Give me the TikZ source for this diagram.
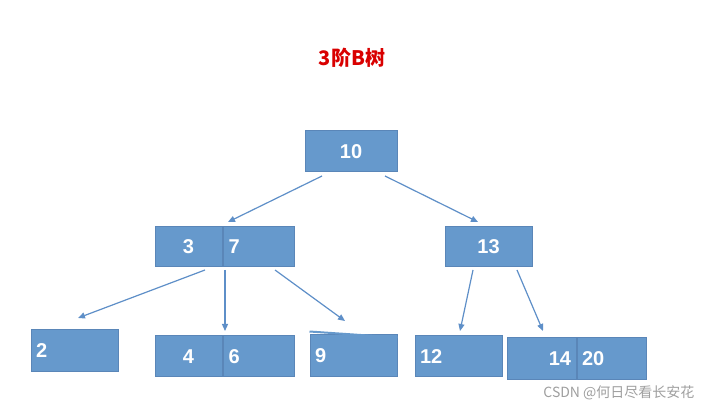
\documentclass[tikz,border=0pt]{standalone}
\usepackage{fontspec}
\setmainfont{Liberation Sans}
\newfontfamily\cjk{Noto Sans CJK SC}
\usetikzlibrary{arrows.meta}
\definecolor{bfill}{HTML}{6699CC}
\definecolor{bline}{HTML}{5A86B8}
\definecolor{arr}{HTML}{5E8FC8}
\tikzset{
 bx/.style={draw=bline,fill=bfill,line width=1pt,inner sep=0pt,text=white,font=\bfseries\fontsize{20}{20}\selectfont},
 conn/.style={draw=arr,line width=1.2pt,-{Triangle[length=7pt,width=6pt]}}
}
\begin{document}
\begin{tikzpicture}[x=1pt,y=-1pt]
\useasboundingbox[fill=white] (0,0) rectangle (710,411);
\node[font=\cjk\bfseries\fontsize{20}{20}\selectfont,text=red!85!black] (title) at (352,58) {3阶B树};
\node[bx,minimum width=92pt,minimum height=41pt] (n10) at (351,151.5) {10};
\node[bx,minimum width=67pt,minimum height=40pt] (n3) at (188.5,247) {3};
\node[bx,minimum width=71pt,minimum height=40pt,anchor=west,text width=60pt,align=left,inner xsep=5pt] (n7) at (n3.east) {7};
\node[bx,minimum width=87pt,minimum height=40pt] (n13) at (488.5,247) {13};
\node[bx,minimum width=87pt,minimum height=42pt,text width=77pt,align=left,inner xsep=5pt] (n2) at (74.5,351) {2};
\node[bx,minimum width=67pt,minimum height=41pt] (n4) at (188.5,356.5) {4};
\node[bx,minimum width=71pt,minimum height=41pt,anchor=west,text width=60pt,align=left,inner xsep=5pt] (n6) at (n4.east) {6};
\node[bx,minimum width=87pt,minimum height=42pt,text width=77pt,align=left,inner xsep=5pt] (n9) at (353.5,356) {9};
\draw[bfill,line width=2pt] (n9.north west)++(0,-3) coordinate (l9a) -- ([yshift=-3pt]n9.north east) coordinate (l9b);
\node[bx,minimum width=87pt,minimum height=41pt,text width=77pt,align=left,inner xsep=5pt] (n12) at (458.5,356.5) {12};
\node[bx,minimum width=69pt,minimum height=42pt,text width=59pt,align=right,inner xsep=5pt] (n14) at (541.5,359) {14};
\node[bx,minimum width=69pt,minimum height=42pt,anchor=west,text width=59pt,align=left,inner xsep=5pt] (n20) at (n14.east) {20};
\coordinate (a1) at (322,176); \coordinate (a2) at (385,176);
\coordinate (b1) at (205,270); \coordinate (b2) at (225,270); \coordinate (b3) at (275,270);
\coordinate (c1) at (473,270); \coordinate (c2) at (517,270);
\draw[conn] (a1) -- (228,222) coordinate (e1);
\draw[conn] (a2) -- (478,222) coordinate (e2);
\draw[conn] (b1) -- (78,318) coordinate (e3);
\draw[conn] (b2) -- (225,331) coordinate (e4);
\draw[conn] (b3) -- (345,321) coordinate (e5);
\draw[conn] (c1) -- (460,331) coordinate (e6);
\draw[conn] (c2) -- (543,331) coordinate (e7);
\node[font=\cjk\fontsize{14}{14}\selectfont,text=gray!75,anchor=east] (wm) at (698,393) {CSDN @何日尽看长安花};
\end{tikzpicture}
\end{document}
